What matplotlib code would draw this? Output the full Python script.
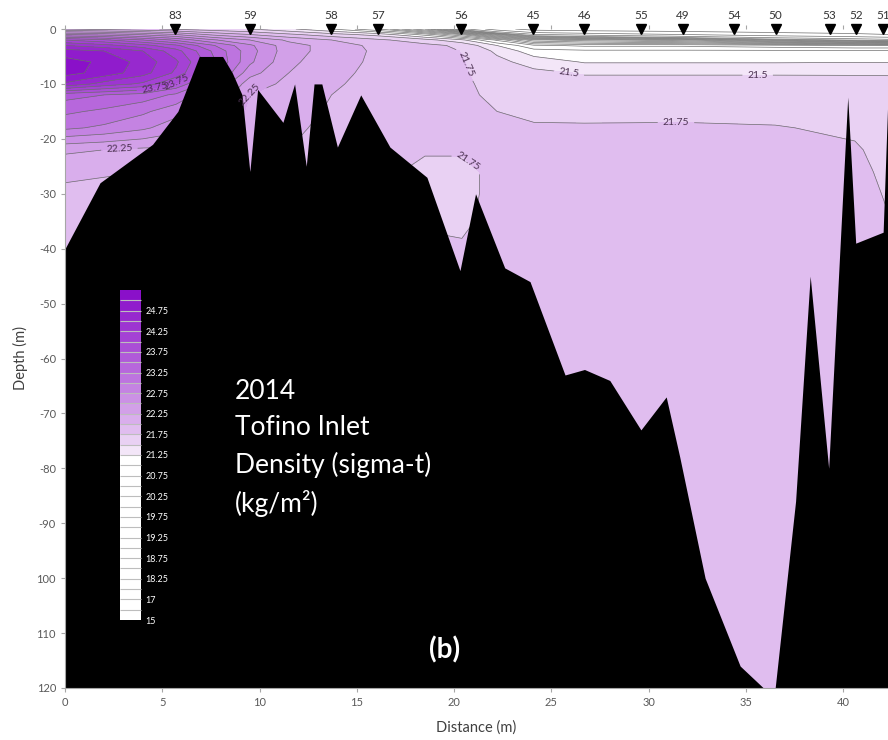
import numpy as np
import matplotlib
matplotlib.use("Agg")
import matplotlib.pyplot as plt
from matplotlib.colors import LinearSegmentedColormap, ListedColormap, BoundaryNorm

plt.rcParams['font.family'] = ['Lato', 'DejaVu Sans']

# ---------------- data ----------------
station_x = [5.66, 9.52, 13.68, 16.10, 20.37, 24.07, 26.70, 29.63, 31.74, 34.41, 36.52, 39.30, 40.64, 42.03]
station_labels = ['83', '59', '58', '57', '56', '45', '46', '55', '49', '54', '50', '53', '52', '51']

grid_x = [0, 2, 4, 5.7, 7.5, 9.5, 11.5, 13.7, 16.1, 18.5, 20.4, 22.2, 24.1, 26.7, 31.7, 36.5, 40.6, 42.3]
grid_depth = [0, -1, -2, -3, -4, -6, -8, -10, -12, -15, -18, -22, -26, -30, -35, -40, -50, -80, -120]

# density (sigma-t) profiles, one list per grid_x column, values at grid_depth
density_cols = [
    [22.0, 23.0, 24.0, 24.5, 24.85, 25.1, 25.1, 24.7, 23.6, 23.3, 23.05, 22.3, 22.05, 21.95, 21.9, 21.88, 21.87, 21.86, 21.85],
    [21.9, 22.9, 23.8, 24.35, 24.75, 24.95, 24.9, 24.4, 23.5, 23.2, 22.95, 22.25, 22.02, 21.94, 21.9, 21.88, 21.87, 21.86, 21.85],
    [21.8, 22.7, 23.5, 24.1, 24.5, 24.65, 24.6, 24.2, 23.4, 23.05, 22.8, 22.2, 22.0, 21.93, 21.9, 21.88, 21.87, 21.86, 21.85],
    [21.7, 22.5, 23.2, 23.8, 24.1, 24.3, 24.2, 23.7, 23.2, 22.85, 22.6, 22.2, 22.0, 21.93, 21.9, 21.88, 21.87, 21.86, 21.85],
    [21.6, 22.2, 22.8, 23.3, 23.5, 23.6, 23.45, 23.1, 22.8, 22.55, 22.4, 22.15, 22.0, 21.93, 21.9, 21.88, 21.87, 21.86, 21.85],
    [21.5, 22.0, 22.5, 22.8, 22.85, 22.8, 22.6, 22.35, 22.25, 22.2, 22.15, 22.08, 22.0, 21.93, 21.9, 21.88, 21.87, 21.86, 21.85],
    [21.3, 21.8, 22.2, 22.35, 22.35, 22.3, 22.25, 22.2, 22.15, 22.1, 22.05, 22.0, 21.95, 21.92, 21.9, 21.88, 21.87, 21.86, 21.85],
    [21.0, 21.6, 22.0, 22.15, 22.15, 22.12, 22.08, 22.04, 22.0, 21.97, 21.94, 21.92, 21.9, 21.88, 21.87, 21.86, 21.86, 21.86, 21.85],
    [20.5, 21.4, 21.8, 21.92, 21.95, 21.94, 21.92, 21.9, 21.89, 21.88, 21.86, 21.84, 21.8, 21.78, 21.8, 21.84, 21.86, 21.86, 21.85],
    [19.5, 20.9, 21.6, 21.82, 21.87, 21.88, 21.88, 21.87, 21.86, 21.85, 21.82, 21.77, 21.7, 21.68, 21.72, 21.8, 21.85, 21.86, 21.85],
    [18.0, 20.2, 21.3, 21.7, 21.74, 21.77, 21.78, 21.8, 21.8, 21.79, 21.79, 21.77, 21.7, 21.68, 21.7, 21.78, 21.84, 21.86, 21.85],
    [16.5, 19.0, 20.7, 21.25, 21.45, 21.57, 21.62, 21.66, 21.7, 21.75, 21.78, 21.8, 21.8, 21.82, 21.84, 21.85, 21.86, 21.86, 21.85],
    [15.5, 17.8, 19.8, 20.8, 21.1, 21.4, 21.56, 21.6, 21.64, 21.71, 21.77, 21.82, 21.84, 21.85, 21.85, 21.85, 21.85, 21.85, 21.85],
    [15.3, 17.5, 19.6, 20.7, 21.05, 21.23, 21.48, 21.58, 21.63, 21.7, 21.77, 21.82, 21.84, 21.85, 21.85, 21.85, 21.85, 21.85, 21.85],
    [15.2, 17.0, 19.3, 20.7, 21.05, 21.23, 21.48, 21.58, 21.63, 21.71, 21.77, 21.82, 21.84, 21.85, 21.85, 21.85, 21.85, 21.85, 21.85],
    [15.1, 16.5, 18.6, 20.6, 21.05, 21.23, 21.48, 21.58, 21.63, 21.7, 21.76, 21.79, 21.82, 21.84, 21.85, 21.85, 21.85, 21.85, 21.85],
    [15.05, 16.2, 18.2, 20.5, 21.05, 21.24, 21.48, 21.57, 21.62, 21.67, 21.72, 21.77, 21.8, 21.83, 21.84, 21.85, 21.85, 21.85, 21.85],
    [15.05, 16.0, 18.0, 20.5, 21.05, 21.24, 21.48, 21.56, 21.6, 21.64, 21.67, 21.69, 21.71, 21.73, 21.76, 21.8, 21.83, 21.85, 21.85],
]

bath_x = [0, 1.8, 4.5, 5.8, 6.9, 8.1, 8.6, 9.1, 9.5, 9.9, 11.2, 11.8, 12.4, 12.8, 13.2, 14.0, 15.2, 16.7,
          18.6, 20.3, 21.1, 22.6, 23.9, 25.7, 26.7, 28.0, 29.6, 30.9, 31.6, 32.9, 34.7, 35.9, 36.5,
          37.55, 38.3, 39.25, 40.23, 40.64, 42.05, 42.3]
bath_z = [-40, -28, -21, -15, -5, -5, -8, -12, -26, -11, -17, -10, -25, -10, -10, -21.5, -12, -21.5,
          -27, -44, -30, -43.5, -46, -63, -62, -64, -73, -67, -78, -100, -116, -120, -120,
          -86, -45, -80, -12.4, -39, -37, -12]

levels = [15, 16, 17, 17.75, 18.25, 18.5, 18.75, 19, 19.25, 19.5, 19.75, 20, 20.25, 20.5, 20.75,
          21, 21.25, 21.5, 21.75, 22, 22.25, 22.5, 22.75, 23, 23.25, 23.5, 23.75, 24, 24.25, 24.5,
          24.75, 25, 25.25]
label_levels = [21.5, 21.75, 22.25, 23.25, 23.75]
cbar_ticks = [15, 17, 18.25, 18.75, 19.25, 19.75, 20.25, 20.75, 21.25, 21.75, 22.25, 22.75,
              23.25, 23.75, 24.25, 24.75]
cbar_ticklabels = ['15', '17', '18.25', '18.75', '19.25', '19.75', '20.25', '20.75', '21.25',
                   '21.75', '22.25', '22.75', '23.25', '23.75', '24.25', '24.75']

yticks = [0, -10, -20, -30, -40, -50, -60, -70, -80, -90, -100, -110, -120]
ytick_labels = ['0', '-10', '-20', '-30', '-40', '-50', '-60', '-70', '-80', '-90', '100', '110', '120']
xticks = [0, 5, 10, 15, 20, 25, 30, 35, 40]

# ---------------- figure ----------------
fig = plt.figure(figsize=(8.88, 7.4), dpi=100)
ax = fig.add_axes([65 / 888, 52 / 740, (888 - 65) / 888, (688 - 29) / 740])

X, D = np.meshgrid(np.array(grid_x), np.array(grid_depth))
Z = np.array(density_cols).T

n_bands = len(levels) - 1
n_white = levels.index(21.25)
purple = LinearSegmentedColormap.from_list(
    'p', [(0.0, '#f3e6f8'), (0.133, '#e0bdef'), (0.5, '#ba6ddd'), (1.0, '#8a10c9')])
band_colors = ['#ffffff'] * n_white + [purple(i / (n_bands - n_white - 1)) for i in range(n_bands - n_white)]
cmap = ListedColormap(band_colors)
norm = BoundaryNorm(levels, cmap.N)

cf = ax.contourf(X, D, Z, levels=levels, cmap=cmap, norm=norm, zorder=1)
plain_levels = [v for v in levels if v not in label_levels]
ax.contour(X, D, Z, levels=plain_levels, colors='#6e6e6e', linewidths=0.5, zorder=1.5)
cl2 = ax.contour(X, D, Z, levels=label_levels, colors='#6e6e6e', linewidths=0.5, zorder=1.5)

ax.clabel(cl2,
          manual=[(25.9, -8), (35.6, -8), (21.0, -6.0), (31.4, -16), (20.6, -24.5),
                  (9.0, -10.0), (2.8, -22.2), (4.6, -10.5), (5.8, -10.0)],
          fmt=lambda v: f'{v:g}', fontsize=7.5, colors='#4a3050', inline=True)

ax.fill_between(bath_x, bath_z, -120, color='black', linewidth=0, zorder=2.5)

ax.set_xlim(0, 42.3)
ax.set_ylim(-120, 0)

ax.plot(station_x, [0] * len(station_x), 'v', color='black', markersize=7,
        clip_on=False, zorder=6)
for sx, lab in zip(station_x, station_labels):
    ax.annotate(lab, (sx, 0), xytext=(0, 6), textcoords='offset points',
                ha='center', va='bottom', fontsize=8.5, color='#333333', annotation_clip=False)

for s in ['top', 'right']:
    ax.spines[s].set_visible(False)
for s in ['left', 'bottom']:
    ax.spines[s].set_color('#a6a6a6')
    ax.spines[s].set_linewidth(0.8)

ax.set_xticks(xticks)
ax.set_xticklabels([str(v) for v in xticks])
ax.set_yticks(yticks)
ax.set_yticklabels(ytick_labels)
ax.tick_params(axis='both', colors='#a6a6a6', labelcolor='#595959', labelsize=8, length=3, width=0.8)
ax.tick_params(axis='x', top=True, direction='out')
ax.set_xlabel('Distance (m)', fontsize=10.5, color='#404040', labelpad=9)
ax.set_ylabel('Depth (m)', fontsize=10.5, color='#404040', labelpad=6)

# colorbar inside plot
cax = fig.add_axes([120 / 888, (740 - 620) / 740, 21 / 888, 330 / 740])
cb = fig.colorbar(cf, cax=cax, ticks=cbar_ticks, spacing='uniform', drawedges=True)
cb.ax.set_yticklabels(cbar_ticklabels)
cb.ax.tick_params(length=0, labelcolor='white', labelsize=6.5, pad=3)
cb.outline.set_visible(False)
cb.dividers.set_color('#bdbdbd')
cb.dividers.set_linewidth(0.8)

fig.text(235 / 888, 1 - 379 / 740, '2014\nTofino Inlet\nDensity (sigma-t)\n(kg/m²)',
         color='white', fontsize=19, va='top', ha='left', linespacing=1.56)
fig.text(445 / 888, 1 - 650 / 740, '(b)', color='white', fontsize=20, fontweight='bold',
         ha='center', va='center')

fig.savefig('out.png', dpi=100)
